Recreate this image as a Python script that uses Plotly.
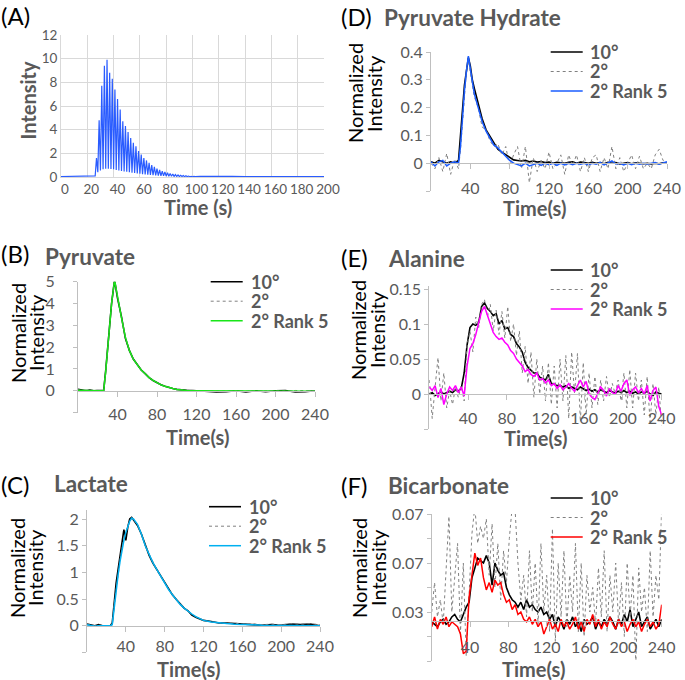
import plotly.graph_objects as go

# ---------------- data ----------------
# (A) raw intensity (baseline, spike maxima, spike minima)
a_pre_time = [0, 4, 8, 12, 16, 20, 24, 26]
a_pre_value = [0.04, 0.05, 0.03, 0.05, 0.04, 0.05, 0.04, 0.1]
a_peak_time = [27, 29, 31, 33, 35, 37, 39, 41, 43, 45, 47, 49, 51, 53, 55, 57, 59, 61, 63,
               65, 67, 69, 71, 73, 75, 77, 79, 81, 83, 85, 87, 89, 91, 93, 95, 97, 99, 101]
a_peak_value = [1.6, 4.8, 7.7, 9.4, 9.9, 8.8, 8.3, 7.4, 6.6, 5.7, 4.7, 4.3, 3.8, 3.3, 2.9,
                2.6, 2.2, 1.9, 1.6, 1.4, 1.2, 1.0, 0.85, 0.7, 0.6, 0.5, 0.42, 0.36, 0.3,
                0.25, 0.2, 0.17, 0.14, 0.12, 0.1, 0.08, 0.06, 0.05]
a_trough_time = [28, 30, 32, 34, 36, 38, 40, 42, 44, 46, 48, 50, 52, 54, 56, 58, 60, 62, 64,
                 66, 68, 70, 72, 74, 76, 78, 80, 82, 84, 86, 88, 90, 92, 94, 96, 98, 100]
a_trough_value = [0.4, 0.55, 0.65, 0.7, 0.7, 0.68, 0.65, 0.6, 0.55, 0.5, 0.47, 0.44, 0.4,
                  0.37, 0.34, 0.3, 0.27, 0.24, 0.21, 0.19, 0.17, 0.15, 0.13, 0.11, 0.1, 0.09,
                  0.08, 0.07, 0.06, 0.05, 0.05, 0.04, 0.04, 0.03, 0.03, 0.02, 0.02]
a_post_time = [102, 106, 110, 114, 120, 130, 140, 150, 160, 170, 180, 190, 200]
a_post_value = [0.03, 0.05, 0.04, 0.08, 0.04, 0.05, 0.04, 0.05, 0.04, 0.05, 0.04, 0.05, 0.04]
a_xticks = [0, 20, 40, 60, 80, 100, 120, 140, 160, 180, 200]
a_yticks = [0, 2, 4, 6, 8, 10, 12]

series_names = ["10°", "2°", "2° Rank 5"]
x_ticks = [40, 80, 120, 160, 200, 240]

# (B) Pyruvate
time_b = [0, 4, 8, 12, 16, 20, 24, 26, 28, 30, 32, 34, 37, 40, 44, 48, 52, 56, 60, 64, 68, 72,
          76, 80, 84, 88, 92, 96, 100, 104, 110, 120, 130, 140, 150, 160, 170, 180, 190, 200,
          210, 220, 230, 240]
b_10 = [0.07, 0.02, 0.0, 0.03, 0.0, 0.01, 0.0, 0.02, 0.9, 1.9, 3.0, 4.0, 5.08, 4.25, 3.4, 2.4,
        1.85, 1.45, 1.2, 0.95, 0.78, 0.6, 0.47, 0.36, 0.27, 0.2, 0.14, 0.1, 0.06, 0.04, 0.02,
        0.0, -0.03, -0.06, -0.05, 0.0, -0.06, 0.0, -0.05, 0.0, 0.01, -0.06, -0.05, 0.0]
b_2 = [0.05, 0.0, 0.03, 0.0, 0.02, 0.0, 0.01, 0.0, 0.88, 1.9, 3.0, 4.0, 5.05, 4.28, 3.38, 2.45,
       1.85, 1.45, 1.2, 0.95, 0.78, 0.6, 0.47, 0.36, 0.27, 0.2, 0.14, 0.1, 0.06, 0.04, 0.02,
       0.01, 0.0, 0.02, -0.02, 0.01, -0.02, 0.01, 0.0, 0.02, -0.02, 0.01, 0.0, 0.0]
b_r5 = [0.02, 0.01, 0.0, 0.0, 0.01, 0.0, 0.0, 0.0, 0.85, 1.85, 2.95, 4.0, 5.08, 4.25, 3.35,
        2.45, 1.85, 1.45, 1.2, 0.95, 0.78, 0.6, 0.47, 0.36, 0.27, 0.2, 0.14, 0.1, 0.06, 0.03,
        0.01, 0.0, 0.0, 0.0, 0.01, 0.0, 0.0, 0.0, 0.0, 0.0, 0.0, 0.0, 0.0, -0.02]
b_ytick_vals = [-1, 0, 1, 2, 3, 4, 5]
b_ytick_text = ["", "0", "1", "2", "3", "4", "5"]

# (C) Lactate
time_c = [0, 4, 8, 12, 16, 20, 24, 26, 28, 30, 32, 34, 36, 38, 40, 42, 44, 46, 48, 52, 56, 60,
          64, 68, 72, 76, 80, 84, 88, 92, 96, 100, 104, 108, 112, 116, 120, 128, 136, 144, 152,
          160, 170, 180, 190, 200, 210, 220, 230, 240]
c_10 = [0.03, 0.02, 0.0, 0.02, 0.0, 0.0, 0.0, 0.05, 0.45, 0.8, 1.05, 1.3, 1.55, 1.8, 1.6, 1.85,
        2.0, 2.03, 1.98, 1.88, 1.72, 1.5, 1.32, 1.17, 1.05, 0.93, 0.8, 0.69, 0.58, 0.49, 0.41,
        0.33, 0.28, 0.2, 0.16, 0.13, 0.1, 0.08, 0.05, 0.05, 0.04, 0.03, 0.02, 0.01, 0.02, 0.01,
        0.03, 0.02, 0.03, 0.0]
c_2 = [0.02, 0.01, 0.0, 0.01, 0.0, 0.0, 0.0, 0.03, 0.38, 0.7, 0.97, 1.22, 1.45, 1.62, 1.76,
       1.88, 1.97, 2.0, 1.99, 1.9, 1.73, 1.5, 1.34, 1.18, 1.04, 0.93, 0.8, 0.68, 0.59, 0.48,
       0.41, 0.33, 0.27, 0.22, 0.17, 0.14, 0.1, 0.07, 0.06, 0.04, 0.05, 0.03, 0.04, 0.02, 0.03,
       0.02, 0.04, 0.03, 0.04, 0.02]
c_r5 = [0.02, 0.0, -0.01, 0.0, 0.0, 0.0, 0.0, 0.02, 0.35, 0.68, 0.95, 1.2, 1.42, 1.6, 1.75,
        1.87, 1.96, 2.02, 2.0, 1.9, 1.72, 1.5, 1.33, 1.18, 1.05, 0.92, 0.8, 0.68, 0.58, 0.48,
        0.4, 0.33, 0.27, 0.22, 0.17, 0.13, 0.1, 0.07, 0.05, 0.04, 0.03, 0.02, 0.02, 0.01, 0.01,
        0.0, 0.01, 0.0, 0.01, 0.0]
c_ytick_vals = [-0.5, 0, 0.5, 1, 1.5, 2]
c_ytick_text = ["", "0", "0.5", "1", "1.5", "2"]

# (D) Pyruvate Hydrate
time_d = [0, 4, 8, 12, 16, 20, 24, 28, 30, 32, 34, 36, 38, 40, 42, 44, 48, 52, 56, 60, 64, 68,
          72, 76, 80, 84, 88, 92, 96, 100, 104, 108, 112, 116, 120, 124, 128, 132, 136, 140,
          144, 148, 152, 156, 160, 164, 168, 172, 176, 180, 184, 188, 192, 196, 200, 204, 208,
          212, 216, 220, 224, 228, 232, 236, 240]
d_10 = [0.005, 0.0, 0.01, 0.005, 0.0, 0.005, 0.0, 0.01, 0.1, 0.21, 0.28, 0.33, 0.38, 0.35, 0.3,
        0.27, 0.21, 0.16, 0.12, 0.095, 0.07, 0.05, 0.04, 0.03, 0.02, 0.012, 0.01, 0.008, 0.01,
        0.005, 0.008, 0.004, 0.006, 0.002, 0.004, 0.0, 0.003, 0.002, 0.0, 0.003, 0.005, 0.0,
        0.004, 0.002, 0.0, 0.003, 0.0, 0.002, -0.002, 0.003, 0.0, 0.002, -0.003, 0.0, 0.002,
        -0.002, 0.001, 0.0, -0.002, 0.0, -0.003, 0.0, -0.002, 0.001, 0.0]
d_2 = [0.0, -0.02, 0.02, -0.03, 0.035, -0.04, 0.015, -0.02, 0.05, 0.15, 0.25, 0.33, 0.37, 0.33,
       0.28, 0.24, 0.2, 0.13, 0.12, 0.08, 0.06, 0.07, 0.03, 0.06, -0.01, 0.03, 0.06, -0.02, 0.06,
       -0.07, 0.02, -0.03, 0.01, -0.02, 0.04, -0.02, 0.0, 0.03, -0.04, 0.03, -0.01, 0.03, -0.03,
       0.02, -0.03, 0.02, 0.03, -0.03, 0.02, -0.02, 0.06, -0.02, 0.02, -0.03, 0.0, 0.03, -0.02,
       0.025, -0.02, 0.0, -0.02, 0.03, 0.05, 0.01, 0.0]
d_r5 = [0.005, -0.01, 0.005, 0.01, -0.01, 0.0, 0.005, 0.0, 0.06, 0.17, 0.26, 0.33, 0.385, 0.34,
        0.29, 0.25, 0.2, 0.15, 0.115, 0.09, 0.065, 0.055, 0.04, 0.025, 0.01, 0.0, -0.005, -0.01,
        0.0, -0.01, -0.005, 0.0, -0.008, 0.0, -0.005, 0.0, -0.008, 0.0, -0.006, 0.0, -0.005,
        0.0, -0.004, 0.0, -0.006, 0.0, -0.004, 0.003, -0.006, 0.0, 0.008, -0.003, 0.0, -0.006,
        0.0, -0.005, 0.0, -0.004, 0.0, -0.003, 0.0, 0.002, -0.004, 0.0, 0.005]
d_ytick_vals = [-0.1, 0, 0.1, 0.2, 0.3, 0.4]
d_ytick_text = ["", "0", "0.1", "0.2", "0.3", "0.4"]

# (E) Alanine and (F) Bicarbonate share one sampling grid
time_ef = [0, 3, 6, 9, 12, 15, 18, 21, 24, 27, 30, 33, 36, 39, 42, 45, 48, 51, 54, 57, 60, 63,
           66, 69, 72, 75, 78, 81, 84, 87, 90, 93, 96, 99, 102, 105, 108, 111, 114, 117, 120,
           123, 126, 129, 132, 135, 138, 141, 144, 147, 150, 153, 156, 159, 162, 165, 168, 171,
           174, 177, 180, 183, 186, 189, 192, 195, 198, 201, 204, 207, 210, 213, 216, 219, 222,
           225, 228, 231, 234, 237, 240]
e_10 = [0.0, 0.002, -0.002, 0.0, 0.003, 0.0, 0.002, 0.004, 0.002, 0.006,
        0.004, 0.008, 0.03, 0.07, 0.095, 0.1, 0.098, 0.102, 0.125, 0.13,
        0.122, 0.118, 0.112, 0.115, 0.1, 0.105, 0.093, 0.095, 0.085, 0.082,
        0.072, 0.067, 0.06, 0.045, 0.038, 0.034, 0.03, 0.03, 0.024, 0.022,
        0.02, 0.028, 0.015, 0.014, 0.012, 0.012, 0.01, 0.012, 0.008, 0.01,
        0.008, 0.006, 0.01, 0.008, 0.005, 0.007, 0.004, 0.006, 0.003, 0.006,
        0.004, 0.002, 0.005, 0.003, 0.001, 0.004, 0.002, 0.005, 0.002, 0.004,
        0.001, 0.003, 0.0, 0.003, 0.001, 0.004, 0.0, -0.002, 0.003, 0.001,
        0.0]
e_2 = [0.02, -0.035, 0.01, 0.052, -0.01, 0.03, -0.02, 0.005, -0.015, 0.01,
       -0.005, 0.012, -0.01, 0.07, 0.09, 0.06, 0.11, 0.095, 0.128, 0.135,
       0.11, 0.128, 0.09, 0.12, 0.085, 0.118, 0.08, 0.125, 0.075, 0.1,
       0.055, 0.09, 0.03, 0.068, 0.015, 0.06, -0.005, 0.05, 0.0, 0.04,
       -0.01, 0.045, -0.015, 0.04, -0.02, 0.05, -0.01, 0.055, -0.035, 0.06,
       0.0, 0.058, -0.04, 0.045, -0.03, 0.03, -0.02, 0.025, -0.015, 0.02,
       -0.01, 0.025, -0.005, 0.015, 0.0, 0.02, -0.01, 0.03, -0.02, 0.035,
       -0.02, 0.03, -0.01, 0.02, -0.03, 0.025, -0.04, 0.015, -0.03, 0.01,
       -0.045]
e_r5 = [0.01, 0.005, 0.012, -0.005, 0.008, -0.015, 0.0, 0.01, 0.005, 0.012,
        0.002, 0.01, -0.003, 0.04, 0.065, 0.072, 0.085, 0.1, 0.118, 0.125,
        0.112, 0.1, 0.088, 0.082, 0.078, 0.08, 0.074, 0.07, 0.062, 0.058,
        0.05, 0.045, 0.04, 0.032, 0.035, 0.028, 0.025, 0.03, 0.02, 0.022,
        0.016, 0.02, 0.012, 0.015, 0.008, 0.013, 0.006, 0.01, 0.015, 0.008,
        0.004, 0.012, 0.02, 0.01, 0.018, 0.0, -0.005, -0.008, 0.002, 0.01,
        0.005, -0.003, 0.008, 0.002, 0.0, 0.012, 0.004, 0.015, 0.02, -0.002,
        0.006, 0.01, 0.002, 0.008, 0.0, 0.012, -0.01, 0.005, 0.01, -0.018,
        -0.03]
e_ytick_vals = [-0.05, 0, 0.05, 0.1, 0.15]
e_ytick_text = ["", "0", "0.05", "0.1", "0.15"]

f_10 = [0.026, 0.025, 0.024, 0.026, 0.027, 0.025, 0.026, 0.028, 0.029, 0.027,
        0.026, 0.029, 0.032, 0.034, 0.044, 0.048, 0.052, 0.051, 0.05, 0.053,
        0.05, 0.041, 0.05, 0.047, 0.045, 0.046, 0.04, 0.037, 0.035, 0.034,
        0.032, 0.034, 0.031, 0.035, 0.032, 0.033, 0.031, 0.03, 0.032, 0.029,
        0.03, 0.027, 0.029, 0.024, 0.028, 0.026, 0.023, 0.027, 0.025, 0.028,
        0.024, 0.026, 0.022, 0.027, 0.025, 0.026, 0.028, 0.023, 0.026, 0.024,
        0.027, 0.025, 0.028, 0.026, 0.023, 0.027, 0.025, 0.029, 0.026, 0.031,
        0.024, 0.027, 0.03, 0.024, 0.026, 0.028, 0.023, 0.025, 0.027, 0.024,
        0.027]
f_2 = [0.03, 0.042, 0.028, 0.035, 0.025, 0.05, 0.069, 0.03, 0.045, 0.058,
       0.021, 0.05, 0.012, 0.04, 0.062, 0.073, 0.058, 0.065, 0.06, 0.068,
       0.045, 0.066, 0.04, 0.058, 0.035, 0.055, 0.042, 0.06, 0.073, 0.072,
       0.05, 0.035, 0.045, 0.028, 0.055, 0.03, 0.05, 0.025, 0.058, 0.03,
       0.045, 0.022, 0.064, 0.018, 0.05, 0.028, 0.055, 0.024, 0.045, 0.03,
       0.058, 0.022, 0.05, 0.02, 0.045, 0.03, 0.04, 0.025, 0.048, 0.028,
       0.055, 0.022, 0.045, 0.03, 0.05, 0.025, 0.042, 0.02, 0.05, 0.028,
       0.045, 0.009, 0.048, 0.03, 0.04, 0.022, 0.055, 0.028, 0.045, 0.035,
       0.073]
f_r5 = [0.024, 0.028, 0.023, 0.027, 0.025, 0.028, 0.024, 0.026, 0.025, 0.024,
        0.021, 0.013, 0.014, 0.036, 0.045, 0.054, 0.049, 0.052, 0.044, 0.039,
        0.042, 0.038, 0.043, 0.041, 0.042, 0.037, 0.034, 0.035, 0.031, 0.033,
        0.029, 0.03, 0.027, 0.026, 0.028, 0.025, 0.027, 0.024, 0.026, 0.021,
        0.024, 0.027, 0.023, 0.025, 0.022, 0.027, 0.024, 0.026, 0.023, 0.025,
        0.028, 0.023, 0.026, 0.022, 0.027, 0.025, 0.029, 0.024, 0.027, 0.023,
        0.026, 0.024, 0.028, 0.025, 0.023, 0.027, 0.024, 0.026, 0.022, 0.025,
        0.027, 0.024, 0.026, 0.022, 0.025, 0.027, 0.024, 0.026, 0.023, 0.025,
        0.033]
f_ytick_vals = [0.01, 0.02, 0.03, 0.04, 0.05, 0.06, 0.07]
f_ytick_text = ["", "", "0.03", "", "0.07", "", "0.07"]

# ---------------- styling helpers ----------------
W, H = 685, 680
FONT = "Lato"
GRAY = "#595959"
AXC = "#bfbfbf"
GRID = "#d9d9d9"


def fx(p):
    return p / W


def fy(p):
    return 1 - p / H


fig = go.Figure()
annotations = []
shapes = []


def add_text(text, x, y, size, color="black", angle=0, xanchor="center"):
    annotations.append(dict(text=text, x=fx(x), y=fy(y), xref="paper", yref="paper",
                            showarrow=False, xanchor=xanchor, yanchor="middle",
                            textangle=angle, borderpad=0,
                            font=dict(family=FONT, size=size, color=color)))


tick_font = dict(family=FONT, size=16, color=GRAY)
tick_font_a = dict(family=FONT, size=13.5, color=GRAY)

# ---------------- panel A ----------------
a_pts = sorted(zip(a_pre_time + a_peak_time + a_trough_time + a_post_time,
                   a_pre_value + a_peak_value + a_trough_value + a_post_value))
fig.add_trace(go.Scatter(x=[p[0] for p in a_pts], y=[p[1] for p in a_pts], mode="lines",
                         line=dict(color="#2a5cff", width=1.2), name="Intensity",
                         xaxis="x", yaxis="y", showlegend=False))
fig.update_layout(
    xaxis=dict(domain=[fx(61), fx(324)], range=[0, 200], anchor="y", tickvals=a_xticks,
               showgrid=True, gridcolor=GRID, showline=True, linecolor=GRID, zeroline=False,
               ticks="", tickfont=tick_font_a, ticklabelshift=4, tickangle=0,
               automargin=False),
    yaxis=dict(domain=[fy(177), fy(35)], range=[0, 12], anchor="x", tickvals=a_yticks,
               showgrid=True, gridcolor=GRID, showline=True, linecolor=GRID, zeroline=False,
               ticks="", tickfont=tick_font_a, automargin=False),
)
add_text("(A)", 0, 15, 24, xanchor="left")
add_text("<b>Intensity</b>", 27.5, 100, 20, GRAY, -90)
add_text("<b>Time (s)</b>", 197.5, 207, 20, GRAY)

# ---------------- panels B-F ----------------
panels = [
    dict(k="2", time=time_b, ys=[b_10, b_2, b_r5], color="#19e619", xdom=(78, 315),
         ydom=(281.7, 412.5), yr=(-1, 5), tv=b_ytick_vals, tt=b_ytick_text, cross=0,
         label="(B)", title="Pyruvate", lab=(0, 253), tit=(44, 256), ytx=(18, 36), yty=333,
         xt=(197, 437), leg=(210.7, 250, 281.7), ystand=15, xstand=4),
    dict(k="3", time=time_c, ys=[c_10, c_2, c_r5], color="#00b0f0", xdom=(87, 320),
         ydom=(510, 652.4), yr=(-0.5, 2.17), tv=c_ytick_vals, tt=c_ytick_text, cross=0,
         label="(C)", title="Lactate", lab=(0, 484), tit=(53, 483), ytx=(17, 35), yty=568,
         xt=(188.5, 669), leg=(209, 248, 506.7), ystand=0, xstand=1),
    dict(k="4", time=time_d, ys=[d_10, d_2, d_r5], color="#1a5cff", xdom=(431, 667),
         ydom=(52, 191), yr=(-0.1, 0.4), tv=d_ytick_vals, tt=d_ytick_text, cross=0,
         label="(D)", title="Pyruvate Hydrate", lab=(340, 16), tit=(383, 17), ytx=(355, 374),
         yty=93, xt=(534, 208), leg=(550.7, 589, 52), ystand=0, xstand=6),
    dict(k="5", time=time_ef, ys=[e_10, e_2, e_r5], color="#ff00ff", xdom=(429.3, 661.7),
         ydom=(285.5, 429), yr=(-0.05, 0.155), tv=e_ytick_vals, tt=e_ytick_text, cross=0,
         label="(E)", title="Alanine", lab=(340, 257), tit=(387, 258), ytx=(358, 377),
         yty=330, xt=(535, 438), leg=(550.7, 589, 270), ystand=0, xstand=5),
    dict(k="6", time=time_ef, ys=[f_10, f_2, f_r5], color="#ff0000", xdom=(431.7, 661.7),
         ydom=(514, 661), yr=(0.01, 0.07), tv=f_ytick_vals, tt=f_ytick_text, cross=0.0262,
         label="(F)", title="Bicarbonate", lab=(340, 485), tit=(387, 485), ytx=(359, 378),
         yty=568, xt=(533.5, 669), leg=(550.7, 589, 498), ystand=0, xstand=6),
]

LEG_STEP = 19.5
for p in panels:
    k = p["k"]
    styles = [dict(color="black", width=1.6),
              dict(color="#808080", width=1, dash="dot"),
              dict(color=p["color"], width=1.5)]
    for name, ys, st in zip(series_names, p["ys"], styles):
        fig.add_trace(go.Scatter(x=p["time"], y=ys, mode="lines", name=name, line=st,
                                 xaxis="x" + k, yaxis="y" + k, showlegend=False))
    y0, y1 = p["yr"]
    d_bot, d_top = fy(p["ydom"][1]), fy(p["ydom"][0])
    pos = d_bot + (p["cross"] - y0) / (y1 - y0) * (d_top - d_bot)
    fig.update_layout(**{
        "xaxis" + k: dict(domain=[fx(p["xdom"][0]), fx(p["xdom"][1])], range=[0, 240],
                          anchor="free", position=pos, showline=True, linecolor=AXC,
                          ticks="outside", ticklen=5, tickcolor=AXC, tickvals=x_ticks,
                          showgrid=False, zeroline=False, tickfont=tick_font,
                          ticklabelstandoff=p["xstand"], tickangle=0, automargin=False),
        "yaxis" + k: dict(domain=[d_bot, d_top], range=[y0, y1], anchor="x" + k,
                          showline=True, linecolor=AXC, ticks="outside", ticklen=4,
                          tickcolor=AXC, tickvals=p["tv"], ticktext=p["tt"], showgrid=False,
                          zeroline=False, tickfont=tick_font,
                          ticklabelstandoff=p["ystand"], automargin=False),
    })
    add_text(p["label"], p["lab"][0], p["lab"][1], 24, xanchor="left")
    add_text("<b>%s</b>" % p["title"], p["tit"][0], p["tit"][1], 22.5, GRAY, xanchor="left")
    add_text("Normalized", p["ytx"][0], p["yty"], 20, "black", -90)
    add_text("Intensity", p["ytx"][1], p["yty"], 20, "black", -90)
    add_text("<b>Time(s)</b>", p["xt"][0], p["xt"][1], 20, GRAY)
    lx0, tx, ly = p["leg"]
    for i, (name, st) in enumerate(zip(series_names, styles)):
        yy = ly + i * LEG_STEP
        shapes.append(dict(type="line", xref="paper", yref="paper", x0=fx(lx0),
                           x1=fx(lx0 + 32), y0=fy(yy), y1=fy(yy), line=st))
        add_text("<b>%s</b>" % name, tx, yy, 18, GRAY, xanchor="left")

fig.update_layout(width=W, height=H,
                  margin=dict(l=0, r=0, t=0, b=0, pad=0, autoexpand=False), autosize=False,
                  plot_bgcolor="white", paper_bgcolor="white", showlegend=False,
                  hovermode=False, annotations=annotations, shapes=shapes,
                  font=dict(family=FONT, color=GRAY))
fig.write_html("out.html", config={"displayModeBar": False, "staticPlot": True},
               post_script="document.body.style.margin='0px';"
                           "document.body.style.overflow='hidden';")
